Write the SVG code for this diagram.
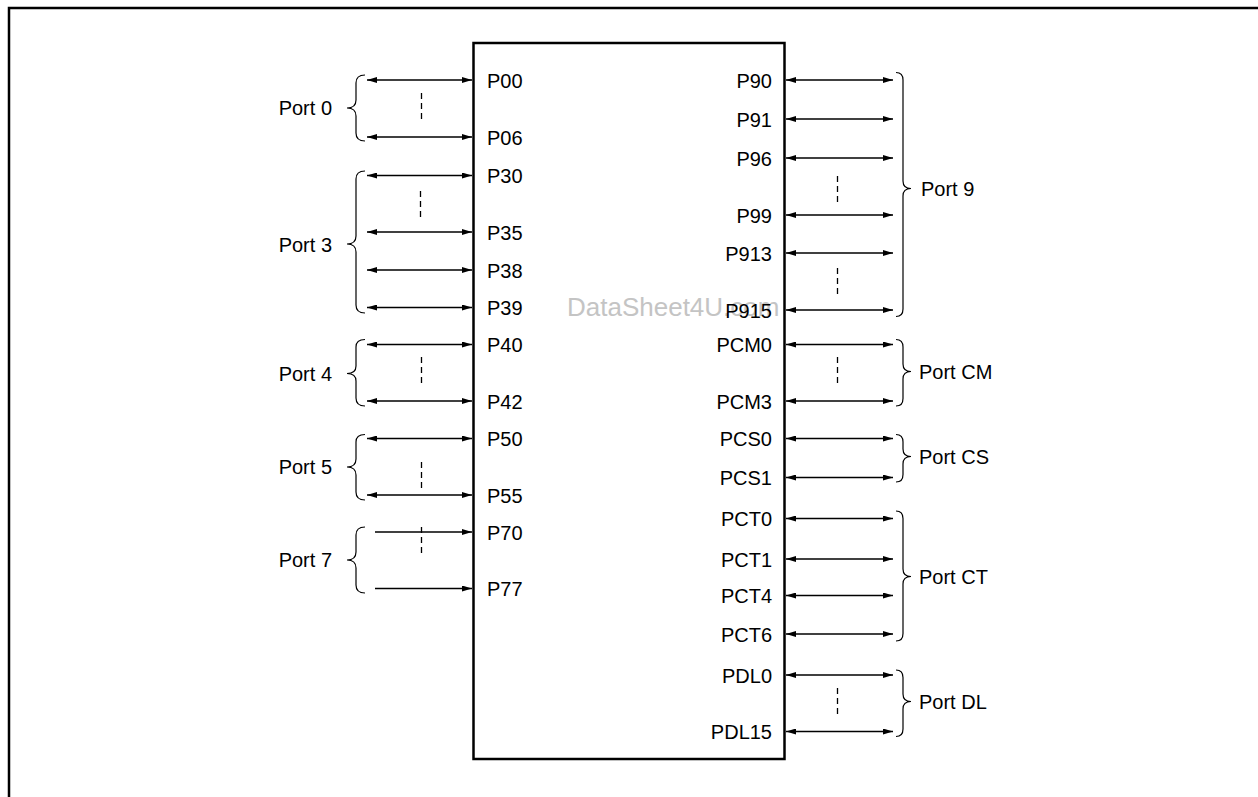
<svg xmlns="http://www.w3.org/2000/svg" width="1258" height="797" viewBox="0 0 1258 797">
<style>
.t{font-family:"Liberation Sans",Arial,sans-serif;font-size:20px;fill:#000}
.r{text-anchor:end}
.a{stroke:#000;stroke-width:1.3;fill:none}
.ab{marker-start:url(#ah);marker-end:url(#ah)}
.ae{marker-end:url(#ah)}
.d{stroke:#000;stroke-width:1.3;stroke-dasharray:6,4;fill:none}
.b{stroke:#000;stroke-width:1.2;fill:none}
</style>
<defs>
<marker id="ah" viewBox="0 0 10 6" refX="10" refY="3" markerWidth="10" markerHeight="6" markerUnits="userSpaceOnUse" orient="auto-start-reverse">
<path d="M0,0 L10,3 L0,6 Z" fill="#000"/>
</marker>
</defs>
<rect width="1258" height="797" fill="#fff"/>
<g id="frame"><polyline points="9,797 9,8 1258,8" fill="none" stroke="#000" stroke-width="2.5"/></g>
<text id="watermark" x="567" y="316" font-family="Liberation Sans,Arial,sans-serif" font-size="26" fill="#c4c4c4">DataSheet4U.com</text>
<g id="chip">
<rect x="473.5" y="43" width="311" height="716" fill="none" stroke="#000" stroke-width="2.5"/>
<g class="t">
<text x="487" y="88">P00</text>
<text x="487" y="144.5">P06</text>
<text x="487" y="183">P30</text>
<text x="487" y="239.5">P35</text>
<text x="487" y="277.5">P38</text>
<text x="487" y="315">P39</text>
<text x="487" y="352">P40</text>
<text x="487" y="408.5">P42</text>
<text x="487" y="446">P50</text>
<text x="487" y="502.5">P55</text>
<text x="487" y="539.5">P70</text>
<text x="487" y="596">P77</text>
</g>
<g class="t r">
<text x="772" y="87.5">P90</text>
<text x="772" y="126.5">P91</text>
<text x="772" y="165.5">P96</text>
<text x="772" y="222.5">P99</text>
<text x="772" y="260.5">P913</text>
<text x="772" y="317.5">P915</text>
<text x="772" y="352">PCM0</text>
<text x="772" y="408.5">PCM3</text>
<text x="772" y="446">PCS0</text>
<text x="772" y="485">PCS1</text>
<text x="772" y="526">PCT0</text>
<text x="772" y="566.5">PCT1</text>
<text x="772" y="603">PCT4</text>
<text x="772" y="641.5">PCT6</text>
<text x="772" y="682.5">PDL0</text>
<text x="772" y="739">PDL15</text>
</g>
</g>
<g id="connectors">
<g class="a ab">
<line x1="367" y1="80" x2="472" y2="80"/>
<line x1="367" y1="137" x2="472" y2="137"/>
<line x1="367" y1="175.5" x2="472" y2="175.5"/>
<line x1="367" y1="232" x2="472" y2="232"/>
<line x1="367" y1="270" x2="472" y2="270"/>
<line x1="367" y1="307.5" x2="472" y2="307.5"/>
<line x1="367" y1="344.5" x2="472" y2="344.5"/>
<line x1="367" y1="401" x2="472" y2="401"/>
<line x1="367" y1="438.5" x2="472" y2="438.5"/>
<line x1="367" y1="495" x2="472" y2="495"/>
<line x1="786" y1="80" x2="893" y2="80"/>
<line x1="786" y1="119" x2="893" y2="119"/>
<line x1="786" y1="158" x2="893" y2="158"/>
<line x1="786" y1="215" x2="893" y2="215"/>
<line x1="786" y1="253" x2="893" y2="253"/>
<line x1="786" y1="310" x2="893" y2="310"/>
<line x1="786" y1="344.5" x2="893" y2="344.5"/>
<line x1="786" y1="401" x2="893" y2="401"/>
<line x1="786" y1="438.5" x2="893" y2="438.5"/>
<line x1="786" y1="477.5" x2="893" y2="477.5"/>
<line x1="786" y1="518.5" x2="893" y2="518.5"/>
<line x1="786" y1="559" x2="893" y2="559"/>
<line x1="786" y1="595.5" x2="893" y2="595.5"/>
<line x1="786" y1="634" x2="893" y2="634"/>
<line x1="786" y1="675" x2="893" y2="675"/>
<line x1="786" y1="731.5" x2="893" y2="731.5"/>
</g>
<g class="a ae">
<line x1="375" y1="532" x2="472" y2="532"/>
<line x1="375" y1="588.5" x2="472" y2="588.5"/>
</g>
<g class="d">
<line x1="421.5" y1="93" x2="421.5" y2="120"/>
<line x1="420.5" y1="191" x2="420.5" y2="217"/>
<line x1="421.5" y1="357" x2="421.5" y2="384"/>
<line x1="421.5" y1="462" x2="421.5" y2="488"/>
<line x1="421.5" y1="527" x2="421.5" y2="553"/>
<line x1="837.5" y1="176" x2="837.5" y2="203"/>
<line x1="837.5" y1="268" x2="837.5" y2="295"/>
<line x1="837.5" y1="357" x2="837.5" y2="384"/>
<line x1="837.5" y1="688" x2="837.5" y2="715"/>
</g>
</g>
<g id="port0"><path class="b" d="M365,75 Q356,75 356,83 L356,100 Q356,108 347,108 Q356,108 356,116 L356,133 Q356,141 365,141"/><text class="t r" x="332" y="115">Port 0</text></g>
<g id="port3"><path class="b" d="M365,171 Q356,171 356,179 L356,236 Q356,244 347,244 Q356,244 356,252 L356,305 Q356,313 365,313"/><text class="t r" x="332" y="252">Port 3</text></g>
<g id="port4"><path class="b" d="M365,339.5 Q356,339.5 356,347 L356,366 Q356,373.5 347,373.5 Q356,373.5 356,381 L356,398 Q356,406 365,406"/><text class="t r" x="332" y="381">Port 4</text></g>
<g id="port5"><path class="b" d="M365,434.5 Q356,434.5 356,442 L356,459 Q356,467 347,467 Q356,467 356,475 L356,492 Q356,500 365,500"/><text class="t r" x="332" y="474">Port 5</text></g>
<g id="port7"><path class="b" d="M365,527 Q356,527 356,535 L356,552 Q356,560 347,560 Q356,560 356,568 L356,585 Q356,593 365,593"/><text class="t r" x="332" y="567">Port 7</text></g>
<g id="port9"><path class="b" d="M896,72.5 Q903,72.5 903,80 L903,181 Q903,188.5 911,188.5 Q903,188.5 903,196 L903,309 Q903,316.5 896,316.5"/><text class="t" x="921" y="196">Port 9</text></g>
<g id="portCM"><path class="b" d="M896,339.5 Q903,339.5 903,347 L903,364 Q903,371.5 911,371.5 Q903,371.5 903,379 L903,398.5 Q903,406 896,406"/><text class="t" x="919" y="379">Port CM</text></g>
<g id="portCS"><path class="b" d="M896,434.5 Q903,434.5 903,442 L903,449 Q903,456.5 911,456.5 Q903,456.5 903,464 L903,474.5 Q903,482 896,482"/><text class="t" x="919" y="464">Port CS</text></g>
<g id="portCT"><path class="b" d="M896,511 Q903,511 903,518.5 L903,569 Q903,576.5 911,576.5 Q903,576.5 903,584 L903,633.5 Q903,641 896,641"/><text class="t" x="919" y="584">Port CT</text></g>
<g id="portDL"><path class="b" d="M896,670 Q903,670 903,677.5 L903,694 Q903,701.5 911,701.5 Q903,701.5 903,709 L903,729 Q903,736.5 896,736.5"/><text class="t" x="919" y="709">Port DL</text></g>
</svg>
